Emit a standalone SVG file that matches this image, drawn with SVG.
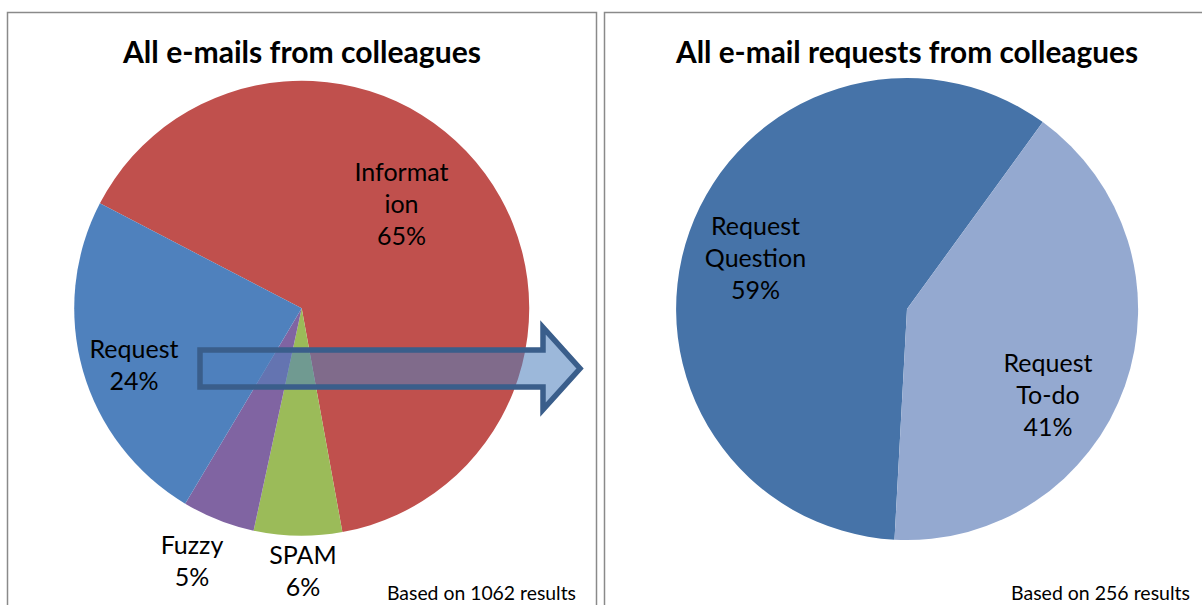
<svg xmlns="http://www.w3.org/2000/svg" width="1202" height="605" viewBox="0 0 1202 605">
  <style>
    .frame { fill: #ffffff; stroke: #8a8a8a; stroke-width: 1.5; }
    .title { font-family: Lato, "Liberation Sans", sans-serif; font-weight: bold; font-size: 31px; fill: #000; text-anchor: middle; }
    .lbl { font-family: Lato, "Liberation Sans", sans-serif; font-size: 25px; fill: #000; text-anchor: middle; }
    .note { font-family: Lato, "Liberation Sans", sans-serif; font-size: 20px; fill: #000; }
    .arrow { fill: #4f81bd; fill-opacity: 0.56; stroke: #3a5e8b; stroke-width: 5.5; stroke-linejoin: miter; }
  </style>

  <rect width="1202" height="605" fill="#ffffff"/>

  <!-- chart frames -->
  <rect class="frame" x="7.5" y="12.5" width="589" height="610"/>
  <rect class="frame" x="604.5" y="12.5" width="610" height="610"/>

  <!-- left chart: all e-mails -->
  <g id="chart-all">
    <text class="title" x="302" y="63" textLength="358" lengthAdjust="spacingAndGlyphs">All e-mails from colleagues</text>
    <g id="slice-information">
      <path d="M301.7,308.3 L99.9,203.3 A227.5,227.5 0 1 1 342.4,532.1 Z" fill="#c0504d"/>
    </g>
    <g id="slice-spam">
      <path d="M301.7,308.3 L342.4,532.1 A227.5,227.5 0 0 1 253.6,530.7 Z" fill="#9bbb59"/>
    </g>
    <g id="slice-fuzzy">
      <path d="M301.7,308.3 L253.6,530.7 A227.5,227.5 0 0 1 185.2,503.7 Z" fill="#8064a2"/>
    </g>
    <g id="slice-request">
      <path d="M301.7,308.3 L185.2,503.7 A227.5,227.5 0 0 1 99.9,203.3 Z" fill="#4f81bd"/>
    </g>
    <text class="lbl" x="401.5" y="181">Informat</text>
    <text class="lbl" x="401.5" y="213">ion</text>
    <text class="lbl" x="401.5" y="245">65%</text>
    <text class="lbl" x="134" y="358">Request</text>
    <text class="lbl" x="134" y="390">24%</text>
    <text class="lbl" x="192" y="554">Fuzzy</text>
    <text class="lbl" x="192" y="586">5%</text>
    <text class="lbl" x="303" y="564">SPAM</text>
    <text class="lbl" x="303" y="596">6%</text>
    <text class="note" x="387" y="600" textLength="189" lengthAdjust="spacingAndGlyphs">Based on 1062 results</text>
  </g>

  <!-- right chart: requests only -->
  <g id="chart-requests">
    <text class="title" x="907" y="63" textLength="462" lengthAdjust="spacingAndGlyphs">All e-mail requests from colleagues</text>
    <g id="slice-question">
      <path d="M907,309 L894.5,539.7 A231,231 0 1 1 1042.8,122.1 Z" fill="#4673a8"/>
    </g>
    <g id="slice-todo">
      <path d="M907,309 L1042.8,122.1 A231,231 0 0 1 894.5,539.7 Z" fill="#94a9d0"/>
    </g>
    <text class="lbl" x="755.5" y="235">Request</text>
    <text class="lbl" x="755.5" y="267">Question</text>
    <text class="lbl" x="755.5" y="299">59%</text>
    <text class="lbl" x="1048" y="372">Request</text>
    <text class="lbl" x="1048" y="404">To-do</text>
    <text class="lbl" x="1048" y="436">41%</text>
    <text class="note" x="1011" y="600" textLength="179" lengthAdjust="spacingAndGlyphs">Based on 256 results</text>
  </g>

  <!-- connector: block arrow from the Request slice to the requests chart -->
  <g id="connectors">
    <path class="arrow" d="M200,350 L543,350 L543,327.5 L580,368.5 L543,409.5 L543,387 L200,387 Z"/>
  </g>
</svg>
